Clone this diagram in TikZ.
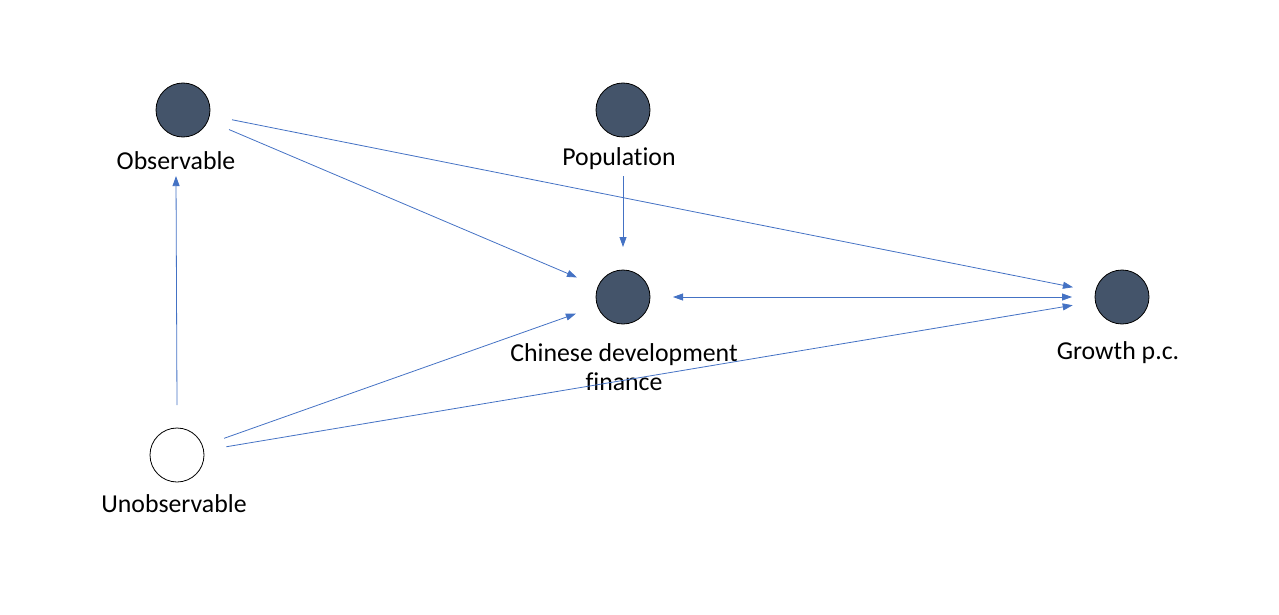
\documentclass[tikz,border=0pt]{standalone}
\usepackage{fontspec}
\setmainfont[Ligatures=NoCommon]{Carlito}
\usetikzlibrary{arrows.meta}
\definecolor{nodefill}{HTML}{44546A}
\definecolor{arrowblue}{HTML}{4472C4}
\begin{document}
\begin{tikzpicture}[x=1pt,y=-1pt,
  var/.style={circle,draw=black,line width=0.8pt,fill=nodefill,minimum size=54pt,inner sep=0pt,outer sep=23pt},
  latent/.style={var,fill=white},
  lab/.style={font=\fontsize{25.8}{28.5}\selectfont,align=center,inner sep=0pt,outer sep=6pt},
  conn/.style={draw=arrowblue,line width=0.8pt,-{Triangle[length=10pt,width=7pt]}},
  bconn/.style={draw=arrowblue,line width=0.8pt,{Triangle[length=10pt,width=7pt]}-{Triangle[length=10pt,width=7pt]}}]
\useasboundingbox (0,0) rectangle (1279,615);
\node[var] (obs) at (183,110) {};
\node[lab] (obsl) at (176,161) {Observable};
\node[var] (pop) at (623,110) {};
\node[lab] (popl) at (619,159) {Population};
\node[var] (cdf) at (623,297) {};
\node[lab] (cdfl) at (624,367) {Chinese development\\finance};
\node[var] (gro) at (1122,297) {};
\node[lab] (grol) at (1118,353) {Growth p.c.};
\node[latent] (uno) at (177,455) {};
\node[lab] (unol) at (174,504) {Unobservable};
\draw[conn] (obs) -- (cdf);
\draw[conn] (obs) -- (gro);
\draw[conn] (cdf.north |- popl.south) -- (cdf.north);
\draw[conn] (uno.north) -- (obsl.south);
\draw[conn] (uno) -- (cdf);
\draw[conn] (uno) -- (gro);
\draw[bconn] (cdf) -- (gro);
\end{tikzpicture}
\end{document}
